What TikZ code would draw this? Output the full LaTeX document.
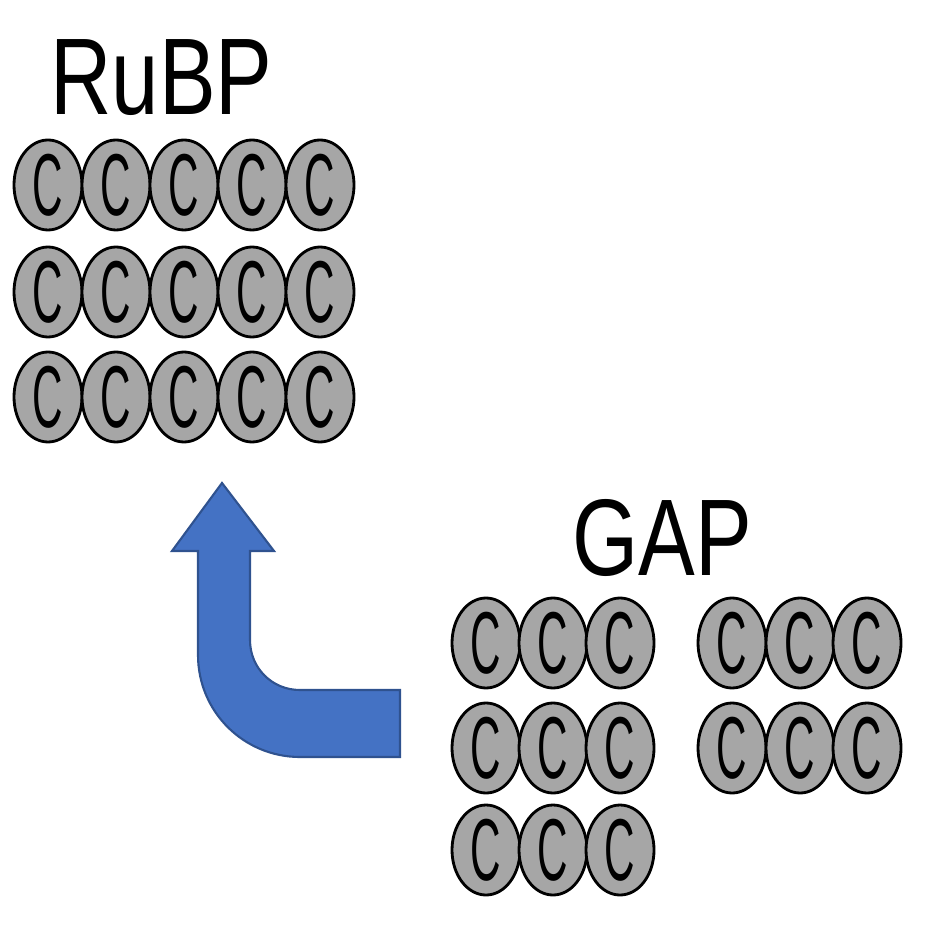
\documentclass[tikz,border=0pt]{standalone}
\usepackage{fontspec}
\setmainfont{Liberation Sans}
\usetikzlibrary{shapes.geometric}
\begin{document}
\begin{tikzpicture}[x=0.1mm,y=-0.1mm,
  atom/.style={ellipse,draw=black,line width=0.8pt,fill=gray!70,minimum width=6.8mm,minimum height=9mm,inner sep=0pt,
    font=\fontsize{25}{25}\selectfont},
  lbl/.style={font=\fontsize{31}{31}\selectfont,xscale=0.78,inner sep=0pt,anchor=base west}]
\useasboundingbox (0,0) rectangle (927,927);
\newcommand{\catom}[3]{%
  \node[atom] (#1) at (#2,#3) {\scalebox{0.48}[1]{C}};}
\node[lbl] (rubp) at (50,115) {RuBP};
\node[lbl] (gap) at (572,575) {GAP};
\foreach \r/\y in {1/185,2/292,3/397}{
  \foreach \c/\x in {1/48,2/116,3/184,4/252,5/320}{\catom{r\r\c}{\x}{\y}}}
\foreach \r/\y in {1/643,2/748,3/850}{
  \foreach \c/\x in {1/486,2/553,3/620}{\catom{g\r\c}{\x}{\y}}}
\foreach \r/\y in {1/643,2/748}{
  \foreach \c/\x in {1/732,2/800,3/867}{\catom{h\r\c}{\x}{\y}}}
\fill[fill={rgb,255:red,68;green,114;blue,196},draw={rgb,255:red,47;green,82;blue,143},line width=0.6pt]
 (400,690) -- (300,690) .. controls (272,690) and (250,668) .. (250,640)
 -- (250,551) -- (274,551) -- (222,483) -- (172,551) -- (198,551) -- (198,655)
 .. controls (198,712) and (244,757) .. (300,757) -- (400,757) -- cycle;
\end{tikzpicture}
\end{document}
